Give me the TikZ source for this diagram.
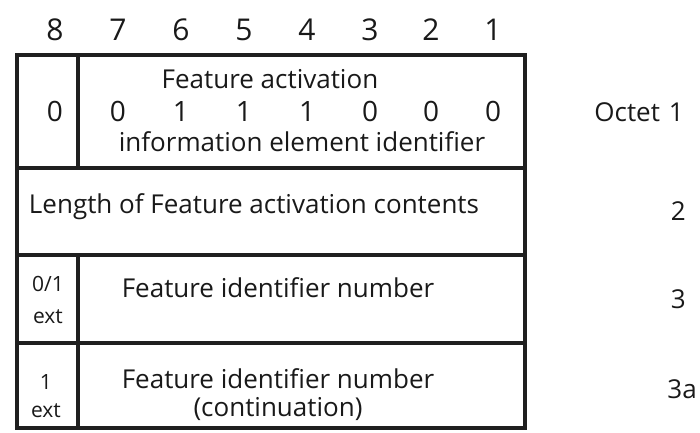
\documentclass[tikz,border=0pt]{standalone}
\usepackage{fontspec}
\setmainfont{Open Sans}
\begin{document}
\begin{tikzpicture}[x=1pt,y=-1pt,
  grid/.style={line width=3.2pt,draw=black!88},
  txt/.style={font=\fontsize{26}{30}\selectfont,text=black!90,inner sep=0pt,anchor=base},
  big/.style={font=\fontsize{30}{34}\selectfont,text=black!90,inner sep=0pt,anchor=base},
  mid/.style={font=\fontsize{28}{32}\selectfont,text=black!90,inner sep=0pt,anchor=base},
  small/.style={font=\fontsize{21}{24}\selectfont,text=black!90,inner sep=0pt,anchor=base}]
\useasboundingbox (0,0) rectangle (700,432);
% frame and field boundaries
\coordinate (tl) at (17,55);
\coordinate (br) at (525,428);
\draw[grid] (tl) rectangle (br);
\draw[grid] (17,168) -- (525,168);
\draw[grid] (17,255) -- (525,255);
\draw[grid] (17,343) -- (525,343);
\draw[grid] (78,55) -- (78,168);
\draw[grid] (78,255) -- (78,428);
% bit positions
\foreach \b/\x in {8/55,7/118,6/181,5/244,4/307,3/370,2/431,1/493}
  \node[big] (h\b) at (\x,40) {\b};
% octet 1
\node[txt] (fa) at (270,88) {Feature activation};
\foreach \v/\x/\n in {0/55/8,0/118/7,1/181/6,1/244/5,1/307/4,0/370/3,0/431/2,0/493/1}
  \node[mid] (d\n) at (\x,121) {\v};
\node[txt] (iei) at (302,151) {information element identifier};
% octet 2
\node[txt] (len) at (254,213) {Length of Feature activation contents};
% octet 3
\node[small] (e3a) at (48,291) {0/1};
\node[small] (e3b) at (48,323) {ext};
\node[txt] (fin) at (278,297) {Feature identifier number};
% octet 3a
\node[small] (e4a) at (46,389) {1};
\node[small] (e4b) at (46,417) {ext};
\node[txt] (fin2) at (278,388) {Feature identifier number};
\node[txt] (cont) at (278,416) {(continuation)};
% octet labels
\node[txt,anchor=base east] (o1) at (684,121) {Octet\hspace{9pt}1};
\node[txt,anchor=base east] (o2) at (686,220) {2};
\node[txt,anchor=base east] (o3) at (686,308) {3};
\node[txt,anchor=base east] (o4) at (697,398) {3a};
\end{tikzpicture}
\end{document}
